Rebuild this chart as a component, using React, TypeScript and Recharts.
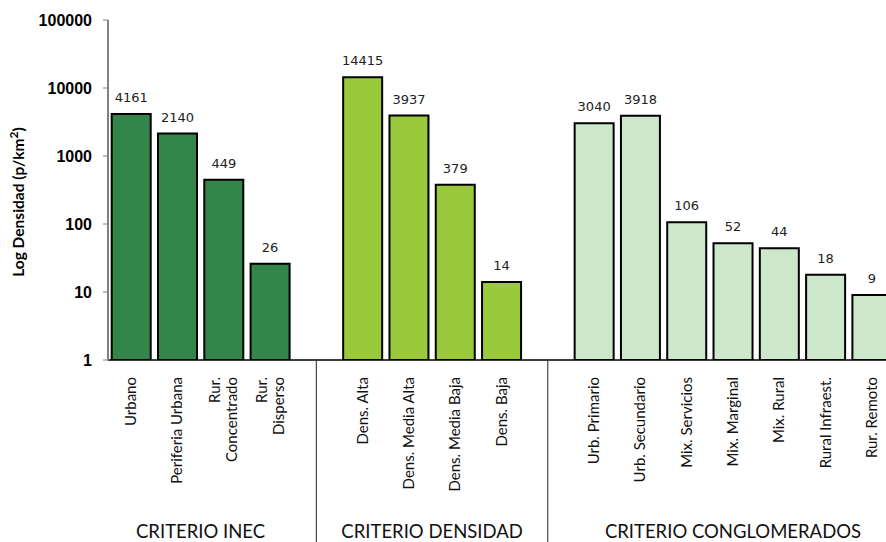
import React from 'react';
import { BarChart, Bar, XAxis, YAxis, Cell, LabelList } from 'recharts';

// Population density per classification scheme (people per km²)
const inecNames = ['Urbano', 'Periferia Urbana', 'Rur.\nConcentrado', 'Rur.\nDisperso'];
const inecValues = [4161, 2140, 449, 26];

const densNames = ['Dens. Alta', 'Dens. Media Alta', 'Dens. Media Baja', 'Dens. Baja'];
const densValues = [14415, 3937, 379, 14];

const conglNames = [
  'Urb. Primario',
  'Urb. Secundario',
  'Mix. Servicios',
  'Mix. Marginal',
  'Mix. Rural',
  'Rural Infraest.',
  'Rur. Remoto',
];
const conglValues = [3040, 3918, 106, 52, 44, 18, 9];

const groupTitles = ['CRITERIO INEC', 'CRITERIO DENSIDAD', 'CRITERIO CONGLOMERADOS'];
const groupColors = ['#33854A', '#9ACA3C', '#CDE7CB'];
const yTicks = [1, 10, 100, 1000, 10000, 100000];

type Row = { key: string; name: string; value: number | null; group: number; gap: boolean };

const groups = [
  { names: inecNames, values: inecValues },
  { names: densNames, values: densValues },
  { names: conglNames, values: conglValues },
];

// One empty slot separates consecutive groups
const rows: Row[] = [];
const groupCenters: number[] = [];
groups.forEach((g, gi) => {
  if (gi > 0) {
    rows.push({ key: `gap-${gi}`, name: '', value: null, group: -1, gap: true });
  }
  const start = rows.length;
  g.names.forEach((name, i) => {
    rows.push({ key: `g${gi}-${i}`, name, value: g.values[i], group: gi, gap: false });
  });
  groupCenters.push(start + g.names.length / 2);
});

const rowByKey: Record<string, Row> = {};
rows.forEach((r) => {
  rowByKey[r.key] = r;
});

const TICK_FONT = 'Lato, "Open Sans", sans-serif';

const CategoryTick = (props: any) => {
  const { x, y, payload } = props;
  const row = rowByKey[payload.value];
  if (!row) return null;
  if (row.gap) {
    return <line x1={x} x2={x} y1={y} y2={y + 200} stroke="#222" strokeWidth={1} />;
  }
  const lines = row.name.split('\n');
  const n = lines.length;
  return (
    <g transform={`translate(${x},${y + 17}) rotate(-90)`}>
      <text textAnchor="end" fontFamily={TICK_FONT} fontSize={15} fill="#111">
        {lines.map((l, i) => (
          <tspan key={i} x={0} y={5 + (i - (n - 1) / 2) * 17}>
            {l}
          </tspan>
        ))}
      </text>
    </g>
  );
};

// Group captions under the category labels, centred on each group's slots
const GroupTitles = (props: any) => {
  const vb = props.viewBox;
  if (!vb) return null;
  const slotW = vb.width / rows.length;
  return (
    <g>
      {groupTitles.map((t, i) => (
        <text
          key={t}
          x={vb.x + groupCenters[i] * slotW}
          y={vb.y + 178}
          textAnchor="middle"
          fontFamily={TICK_FONT}
          fontSize={18.5}
          fill="#111"
        >
          {t}
        </text>
      ))}
    </g>
  );
};

const YTitle = (props: any) => {
  const vb = props.viewBox || { x: 0, y: 0, width: 0, height: 0 };
  const cx = 24;
  const cy = vb.y + vb.height / 2 + 12;
  return (
    <text
      transform={`translate(${cx},${cy}) rotate(-90)`}
      textAnchor="middle"
      fontFamily={TICK_FONT}
      fontWeight="bold"
      fontSize={15.5}
      fill="#000"
    >
      Log Densidad (p/km
      <tspan dy={-6} fontSize={12}>
        2
      </tspan>
      <tspan dy={6}>)</tspan>
    </text>
  );
};

export default function App() {
  return (
    <div
      style={{
        position: 'fixed',
        left: 0,
        top: 0,
        width: 886,
        height: 542,
        overflow: 'hidden',
        background: '#fff',
      }}
    >
      <BarChart
        width={900}
        height={542}
        data={rows}
        margin={{ top: 20, right: 5, left: 0, bottom: 0 }}
        barCategoryGap="8%"
      >
        <XAxis
          dataKey="key"
          type="category"
          height={182}
          interval={0}
          tickLine={false}
          tickSize={0}
          tickMargin={0}
          axisLine={{ stroke: '#000', strokeWidth: 1.5 }}
          tick={<CategoryTick />}
          label={{ content: GroupTitles }}
        />
        <YAxis
          scale="log"
          domain={[1, 100000]}
          ticks={yTicks}
          allowDataOverflow
          width={108}
          axisLine={{ stroke: '#808080', strokeWidth: 2 }}
          tickLine={{ stroke: '#808080', strokeWidth: 1 }}
          tickSize={5}
          tickMargin={11}
          tick={{ fontSize: 16, fontWeight: 'bold', fill: '#000', fontFamily: '"Liberation Sans", Arial, sans-serif' }}
          label={{ content: YTitle }}
        />
        <Bar dataKey="value" stroke="#000" strokeWidth={2} isAnimationActive={false}>
          {rows.map((r) => (
            <Cell key={r.key} fill={r.group >= 0 ? groupColors[r.group] : 'none'} />
          ))}
          <LabelList
            dataKey="value"
            position="top"
            offset={12}
            fill="#222"
            fontSize={13}
            fontFamily='"DejaVu Sans", Verdana, sans-serif'
            formatter={(v: any) => (v == null ? '' : v)}
          />
        </Bar>
      </BarChart>
    </div>
  );
}
